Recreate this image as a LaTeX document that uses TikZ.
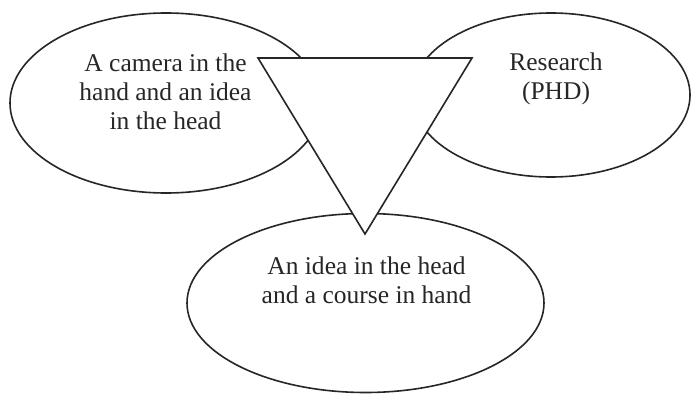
\documentclass[tikz,border=0pt]{standalone}
\usepackage{fontspec}
\setmainfont{Liberation Serif}
\usetikzlibrary{shapes.geometric}
\definecolor{ink}{RGB}{38,38,38}
\begin{document}
\begin{tikzpicture}[x=1pt,y=1pt,
  oval/.style={draw=ink,line width=1.6pt,ellipse,inner sep=0pt},
  tri/.style={draw=ink,fill=white,line width=1.6pt,line join=miter},
  lbl/.style={text=ink,align=center,anchor=base,font=\fontsize{25.5}{29}\selectfont,inner sep=0pt}]
\useasboundingbox (0,0) rectangle (692,394);
\fill[white] (0,0) rectangle (692,394);
\node[oval,minimum width=312pt,minimum height=180pt] (camera) at (166,291) {};
\node[oval,minimum width=278pt,minimum height=164pt] (research) at (551,299) {};
\node[oval,minimum width=357pt,minimum height=179pt] (course) at (365.5,91) {};
\coordinate (tl) at (258,336);
\coordinate (tr) at (472,336);
\coordinate (tb) at (365,160);
\draw[tri] (tl) -- (tr) -- (tb) -- cycle;
\node[lbl] (cameratext) at (165.5,264) {A camera in the\\hand and an idea\\in the head};
\node[lbl] (researchtext) at (556,294) {Research\\(PHD)};
\node[lbl] (coursetext) at (366.5,91) {An idea in the head\\and a course in hand};
\end{tikzpicture}
\end{document}
